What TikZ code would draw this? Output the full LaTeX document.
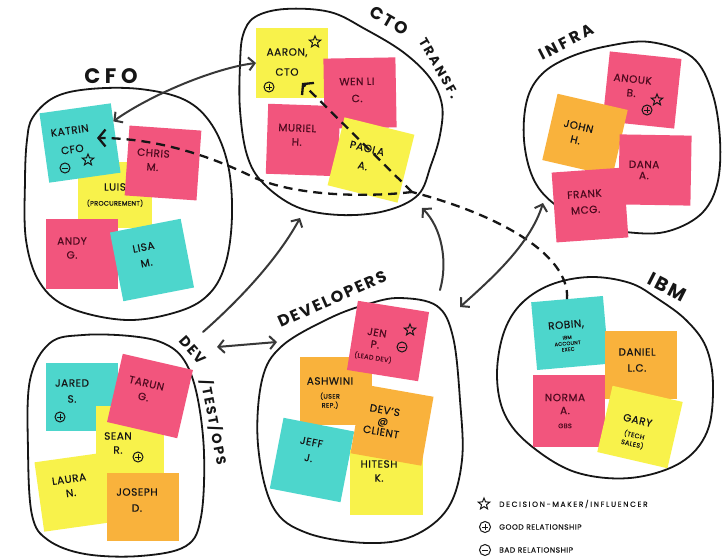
\documentclass[tikz,border=0pt]{standalone}
\usepackage{fontspec}
\setmainfont{Poppins}
\usetikzlibrary{arrows.meta,shapes.geometric,calc}

\definecolor{ink}{HTML}{161616}
\definecolor{arrowink}{HTML}{383838}
\definecolor{notecyan}{HTML}{4DD6CC}
\definecolor{notepink}{HTML}{F2557D}
\definecolor{noteyellow}{HTML}{F8F24B}
\definecolor{noteorange}{HTML}{F9B23C}
\definecolor{pinkink}{HTML}{4E0A1F}

\newcommand{\nametext}{\fontsize{10.5}{14}\selectfont\addfontfeature{LetterSpace=5,FakeBold=0.4}}
\newcommand{\smalltext}{\fontsize{6.5}{8}\selectfont}
\newcommand{\tinytext}{\fontsize{5}{6}\selectfont}
\newcommand{\grouptext}[2]{\fontsize{#1}{#1}\selectfont\bfseries\addfontfeature{LetterSpace=#2}}
\newcommand{\legendtext}[1]{\fontsize{7.5}{9}\selectfont\addfontfeature{LetterSpace=#1,FakeBold=0.4}}

\tikzset{
  note/.style={minimum width=72pt, minimum height=70pt, inner sep=0pt, outer sep=0pt},
  cyannote/.style={note, fill=notecyan},
  pinknote/.style={note, fill=notepink},
  yellownote/.style={note, fill=noteyellow},
  orangenote/.style={note, fill=noteorange},
  notetext/.style={align=center, font=\nametext, text=ink, inner sep=0pt},
  pinktext/.style={notetext, text=pinkink},
  blob/.style={draw=ink, line width=1.8pt},
  grouplabel/.style={text=ink, inner sep=1pt},
  conn/.style={draw=arrowink, line width=2pt, line cap=round},
  dashconn/.style={draw=ink, line width=2.3pt, dash pattern=on 9pt off 6pt},
  >={Straight Barb[length=6pt,width=13pt]},
  bigtip/.style={-{Straight Barb[length=7pt,width=17pt]}},
  starmark/.style={star, star points=5, star point ratio=2.3, draw=ink, line width=1pt, minimum size=12pt, inner sep=0pt},
  goodmark/.style={circle, draw=ink, line width=1pt, minimum size=10pt, inner sep=0pt,
    path picture={\draw[line width=0.9pt] ([xshift=-2.6pt]path picture bounding box.center) -- ([xshift=2.6pt]path picture bounding box.center)
      ([yshift=-2.6pt]path picture bounding box.center) -- ([yshift=2.6pt]path picture bounding box.center);}},
  badmark/.style={circle, draw=ink, line width=1pt, minimum size=10pt, inner sep=0pt,
    path picture={\draw[line width=0.9pt] ([xshift=-2.8pt]path picture bounding box.center) -- ([xshift=2.8pt]path picture bounding box.center);}},
  legendlabel/.style={anchor=west, text=ink, inner sep=0pt}
}

\begin{document}
\begin{tikzpicture}[x=1pt, y=-1pt]
\useasboundingbox (0,0) rectangle (723,559);
\fill[white] (0,0) rectangle (723,559);

% ---------- group outlines ----------
\draw[blob] plot[smooth cycle, tension=0.6] coordinates {(33,117) (55,97) (90,89) (140,89) (185,100) (212,125) (228,165) (232,215) (226,262) (210,293) (180,311) (127,320) (70,308) (40,283) (26,240) (25,180) (27,140)};
\draw[blob] plot[smooth cycle, tension=0.6] coordinates {(243,35) (255,17) (285,9) (330,12) (365,29) (403,52) (430,78) (442,105) (440,135) (431,165) (418,195) (385,211) (340,215) (297,207) (263,183) (247,155) (240,110) (240,65)};
\draw[blob] plot[smooth cycle, tension=0.6] coordinates {(553,203) (533,178) (524,140) (527,100) (542,74) (570,57) (608,46) (650,42) (692,57) (712,92) (720,140) (717,185) (700,215) (665,232) (625,232) (590,225)};
\draw[blob] plot[smooth cycle, tension=0.6] coordinates {(497,377) (503,335) (520,305) (550,285) (590,277) (630,283) (658,299) (686,320) (706,347) (713,385) (707,432) (680,463) (630,478) (575,472) (530,445) (505,415)};
\draw[blob] plot[smooth cycle, tension=0.6] coordinates {(50,343) (83,335) (130,336) (163,343) (184,360) (197,395) (204,453) (201,517) (186,546) (140,556) (85,554) (48,540) (32,515) (28,450) (30,380)};
\draw[blob] plot[smooth cycle, tension=0.6] coordinates {(400,298) (437,306) (453,337) (460,400) (462,460) (448,508) (413,536) (367,543) (307,533) (273,507) (258,445) (262,380) (282,346) (330,318) (368,304)};

% ---------- CFO notes ----------
\node[yellownote, minimum width=74pt, minimum height=66pt] (luis) at (115,195) {};
\node[notetext] (luis-t) at (115,195) {LUIS\\[1pt]{\smalltext (PROCUREMENT)}};
\node[cyannote, rotate=8] (katrin) at (80,143) {};
\node[notetext, rotate=8] (katrin-t) at (71,140) {KATRIN\\[5pt]CFO};
\node[badmark] (katrin-bad) at (65,168) {};
\node[starmark] (katrin-star) at (88,160) {};
\node[pinknote, rotate=-4] (chris) at (163,163) {};
\node[pinktext, rotate=-4] (chris-t) at (153,160) {CHRIS\\M.};
\node[pinknote] (andy) at (82,254) {};
\node[pinktext] (andy-t) at (72,248) {ANDY\\G.};
\node[cyannote, rotate=11] (lisa) at (152,260) {};
\node[notetext, rotate=11] (lisa-t) at (145,255) {LISA\\[2pt]M.};

% ---------- CTO notes ----------
\node[yellownote] (aaron) at (292,63) {};
\node[notetext] (aaron-t) at (287,62) {AARON,\\[6pt]CTO};
\node[starmark] (aaron-star) at (315,42) {};
\node[goodmark] (aaron-good) at (269,87) {};
\node[pinknote, rotate=1] (wenli) at (360,93) {};
\node[pinktext, rotate=1] (wenli-t) at (357,90) {WEN LI\\[3pt]C.};
\node[pinknote, rotate=-2] (muriel) at (303,140) {};
\node[pinktext, rotate=-2] (muriel-t) at (297,135) {MURIEL\\H.};
\node[yellownote, rotate=-14] (paola) at (371,160) {};
\node[notetext, rotate=-14] (paola-t) at (365,157) {PAOLA\\[4pt]A.};

% ---------- INFRA notes ----------
\node[pinknote, rotate=-6] (anouk) at (642,90) {};
\node[pinktext, rotate=-6] (anouk-t) at (632,86) {ANOUK\\B.};
\node[goodmark] (anouk-good) at (647,110) {};
\node[starmark] (anouk-star) at (657,100) {};
\node[orangenote, rotate=-13, minimum height=68pt] (john) at (585,135) {};
\node[notetext, rotate=-13] (john-t) at (577,133) {JOHN\\H.};
\node[pinknote, rotate=-1] (dana) at (655,170) {};
\node[pinktext, rotate=-1] (dana-t) at (644,170) {DANA\\[-3pt]A.};
\node[pinknote, rotate=4] (frank) at (590,205) {};
\node[pinktext, rotate=4] (frank-t) at (585,202) {FRANK\\[2pt]MCG.};

% ---------- IBM notes ----------
\node[cyannote, rotate=5, minimum height=68pt] (robin) at (570,333) {};
\node[notetext, rotate=5] (robin-t) at (567,336) {ROBIN,\\[-3pt]{\tinytext IBM}\\[-8pt]{\tinytext ACCOUNT}\\[-8pt]{\tinytext EXEC}};
\node[orangenote, minimum height=68pt] (daniel) at (641,365) {};
\node[notetext] (daniel-t) at (637,360) {DANIEL\\[2pt]L.C.};
\node[pinknote, minimum height=72pt] (norma) at (569,411) {};
\node[pinktext] (norma-t) at (565,411) {NORMA\\[-1pt]A.\\[0pt]{\smalltext GBS}};
\node[yellownote, rotate=-13, minimum height=68pt] (gary) at (640,427) {};
\node[notetext, rotate=-13] (gary-t) at (635,432) {GARY\\[0pt]{\smalltext (TECH}\\[-5pt]{\smalltext SALES)}};

% ---------- DEV/TEST/OPS notes ----------
\node[cyannote, minimum height=68pt] (jared) at (82,397) {};
\node[notetext] (jared-t) at (72,391) {JARED\\[2pt]S.};
\node[goodmark] (jared-good) at (60,417) {};
\node[yellownote, minimum width=68pt, minimum height=68pt] (sean) at (130,440) {};
\node[notetext] (sean-t) at (118,443) {SEAN\\R.};
\node[goodmark] (sean-good) at (138,457) {};
\node[pinknote, rotate=-13] (tarun) at (150,396) {};
\node[pinktext, rotate=-13] (tarun-t) at (145,390) {TARUN\\G.};
\node[yellownote, rotate=8] (laura) at (75,492) {};
\node[notetext, rotate=8] (laura-t) at (70,486) {LAURA\\N.};
\node[orangenote, minimum height=68pt] (joseph) at (143,507) {};
\node[notetext] (joseph-t) at (137,500) {JOSEPH\\[2pt]D.};

% ---------- DEVELOPERS notes ----------
\node[orangenote, minimum height=68pt] (ashwini) at (336,391) {};
\node[notetext] (ashwini-t) at (330,393) {ASHWINI\\[0pt]{\smalltext (USER}\\[-5pt]{\smalltext REP.)}};
\node[pinknote, rotate=-9] (jen) at (388,341) {};
\node[pinktext, rotate=-9] (jen-t) at (375,345) {JEN\\[-2pt]P.\\[-2pt]{\smalltext (LEAD DEV)}};
\node[starmark] (jen-star) at (410,330) {};
\node[badmark] (jen-bad) at (402,347) {};
\node[cyannote, rotate=-11, minimum height=72pt] (jeff) at (312,460) {};
\node[notetext, rotate=-11] (jeff-t) at (310,450) {JEFF\\[2pt]J.};
\node[yellownote, minimum width=73pt, minimum height=65pt] (hitesh) at (386,482) {};
\node[notetext] (hitesh-t) at (379,471) {HITESH\\K.};
\node[orangenote, rotate=-10] (devs) at (392,425) {};
\node[notetext, rotate=-10] (devs-t) at (383,421) {DEV'S\\[-3pt]@\\[-3pt]CLIENT};

% ---------- group labels ----------
\node[grouplabel, font=\grouptext{21}{22}] (cfo-label) at (111,76) {CFO};
\node[grouplabel, font=\grouptext{17}{14}, rotate=-30] (cto-label) at (389,21) {CTO};
\node[grouplabel, font=\grouptext{13}{16}, rotate=-60] (transf-label) at (439,68) {TRANSF.};
\node[grouplabel, font=\grouptext{16}{18}, rotate=27] (infra-label) at (566,42) {INFRA};
\node[grouplabel, font=\grouptext{19}{12}, rotate=-27] (ibm-label) at (667,287) {IBM};
\node[grouplabel, font=\grouptext{16}{12}, rotate=24] (dev-label) at (332,299) {DEVELOPERS};
\node[grouplabel, font=\grouptext{14.5}{12}, rotate=-48] (dto-label) at (193,350) {DEV};
\node[grouplabel, font=\grouptext{13.5}{14}, rotate=-79] (dto-label2) at (214,422) {/TEST/OPS};

% ---------- connectors ----------
\coordinate (split) at (412,192);
\coordinate (katrin-tip) at ($(katrin.center)+(17,-5)$);
\coordinate (aaron-tip) at ($(aaron.center)+(10,20)$);
\coordinate (dto-top) at (203,332);
\coordinate (cto-bottom) at (300,218);
\coordinate (dto-right) at (217,347);
\coordinate (dev-left) at (277,342);
\coordinate (dev-top) at (440,290);
\coordinate (cto-right) at (422,208);
\coordinate (dev-right) at (460,307);
\coordinate (infra-left) at (543,203);

\draw[conn, <->] (aaron.west) .. controls (215,68) and (150,95) .. (katrin.25);
\draw[dashconn] (robin.north) .. controls (570,255) and (500,215) .. (split);
\draw[dashconn, bigtip] (split) .. controls (370,197) and (300,197) .. (255,178) .. controls (215,158) and (160,138) .. (katrin-tip);
\draw[dashconn, bigtip] (split) -- (aaron-tip);
\draw[conn, ->] (dto-top) .. controls (245,295) and (280,255) .. (cto-bottom);
\draw[conn, <->] (dto-right) -- (dev-left);
\draw[conn, ->] (dev-top) .. controls (448,262) and (442,228) .. (cto-right);
\draw[conn, <->] (dev-right) .. controls (490,280) and (530,245) .. (infra-left);

% ---------- legend ----------
\node[starmark] (leg-star) at (484,504) {};
\node[legendlabel, font=\legendtext{22}] (leg-star-t) at (499,504) {DECISION-MAKER/INFLUENCER};
\node[goodmark, minimum size=11pt] (leg-good) at (485,527) {};
\node[legendlabel, font=\legendtext{7}] (leg-good-t) at (499,527) {GOOD RELATIONSHIP};
\node[badmark, minimum size=11pt] (leg-bad) at (485,550) {};
\node[legendlabel, font=\legendtext{7}] (leg-bad-t) at (499,550) {BAD RELATIONSHIP};
\end{tikzpicture}
\end{document}
